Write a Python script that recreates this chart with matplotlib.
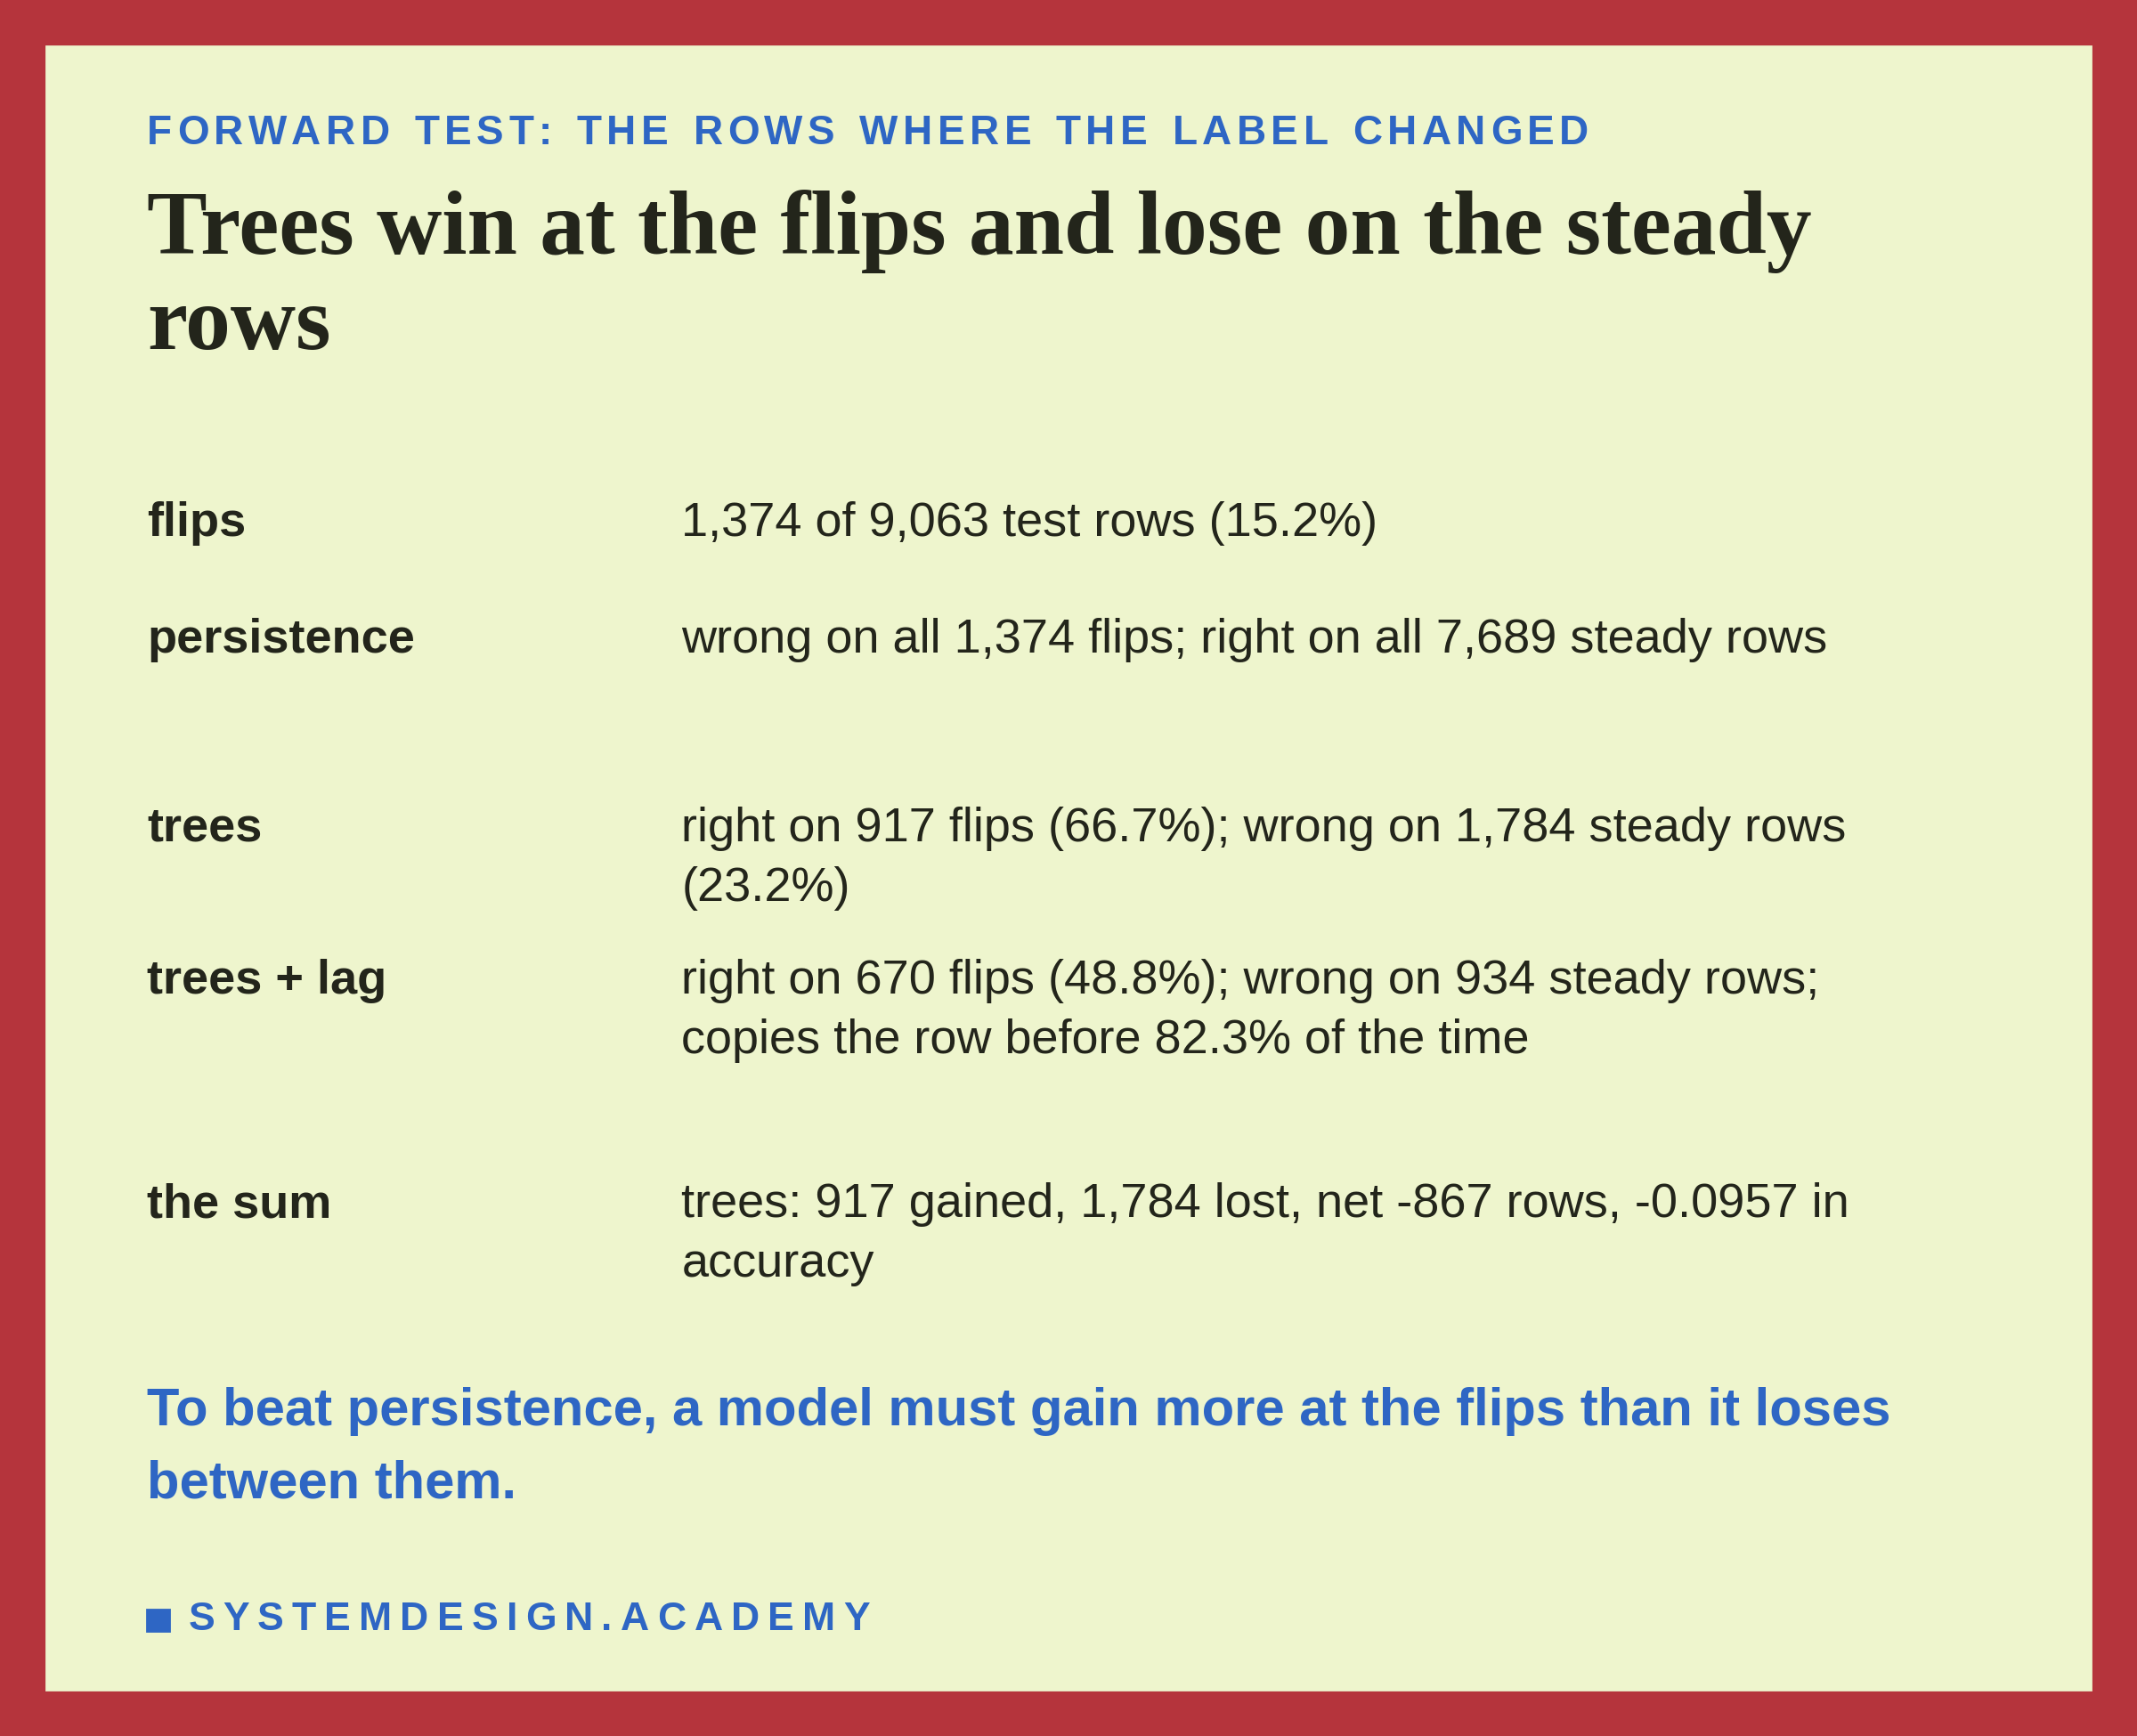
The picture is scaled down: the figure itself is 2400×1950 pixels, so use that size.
import matplotlib
matplotlib.use("Agg")
import matplotlib.pyplot as plt
from matplotlib.patches import Rectangle

W, H = 1568, 1274
kicker = "FORWARD TEST: THE ROWS WHERE THE LABEL CHANGED"
title_lines = ["Trees win at the flips and lose on the steady", "rows"]
row_labels = ["flips", "persistence", "trees", "trees + lag", "the sum"]
row_texts = [
    ["1,374 of 9,063 test rows (15.2%)"],
    ["wrong on all 1,374 flips; right on all 7,689 steady rows"],
    ["right on 917 flips (66.7%); wrong on 1,784 steady rows", "(23.2%)"],
    ["right on 670 flips (48.8%); wrong on 934 steady rows;", "copies the row before 82.3% of the time"],
    ["trees: 917 gained, 1,784 lost, net -867 rows, -0.0957 in", "accuracy"],
]
row_y = [384, 470, 608, 720, 884]
footer = ["To beat persistence, a model must gain more at the flips than it loses", "between them."]
brand = "SYSTEMDESIGN.ACADEMY"

RED = "#B5343C"; BG = "#EEF5CD"; BLUE = "#2E66C4"; INK = "#23251B"

fig = plt.figure(figsize=(12, 9.75), dpi=200)
fig.patch.set_facecolor(RED)
ax = fig.add_axes([0, 0, 1, 1])
ax.set_xlim(0, W); ax.set_ylim(H, 0); ax.axis("off")
ax.add_patch(Rectangle((34, 34), W - 68, H - 68, color=BG, zorder=0))

def spaced(x, y, s, spacing, **kw):
    fig.canvas.draw()
    r = fig.canvas.get_renderer()
    for ch in s:
        if ch == " ":
            t2 = ax.text(0, 0, "n", alpha=0, **kw)
            w = t2.get_window_extent(renderer=r).width / (12 * fig.dpi) * W * 0.6
        else:
            t = ax.text(x, y, ch, **kw)
            w = t.get_window_extent(renderer=r).width / (12 * fig.dpi) * W
        x += w + spacing

spaced(108, 98, kicker, 3.6, fontsize=16.5, color=BLUE, fontweight="bold",
       family="Liberation Sans", va="center")
for i, l in enumerate(title_lines):
    ax.text(108, 170 + i * 70, l, fontsize=36.5, fontweight="bold", color=INK,
            family="Liberation Serif", va="center")
for lab, txts, y in zip(row_labels, row_texts, row_y):
    ax.text(108, y, lab, fontsize=19.5, fontweight="bold", color=INK,
            family="Liberation Sans", va="center")
    for j, t in enumerate(txts):
        ax.text(500, y + j * 44, t, fontsize=19.5, color=INK,
                family="Liberation Sans", va="center")
for i, l in enumerate(footer):
    ax.text(108, 1036 + i * 53, l, fontsize=21.5, fontweight="bold", color=BLUE,
            family="Liberation Sans", va="center")
ax.add_patch(Rectangle((108, 1181), 16, 16, color=BLUE))
spaced(138, 1189, brand, 6, fontsize=16, color=BLUE, fontweight="bold",
       family="Liberation Sans", va="center")

fig.savefig("out.png", dpi=200, facecolor=RED)
